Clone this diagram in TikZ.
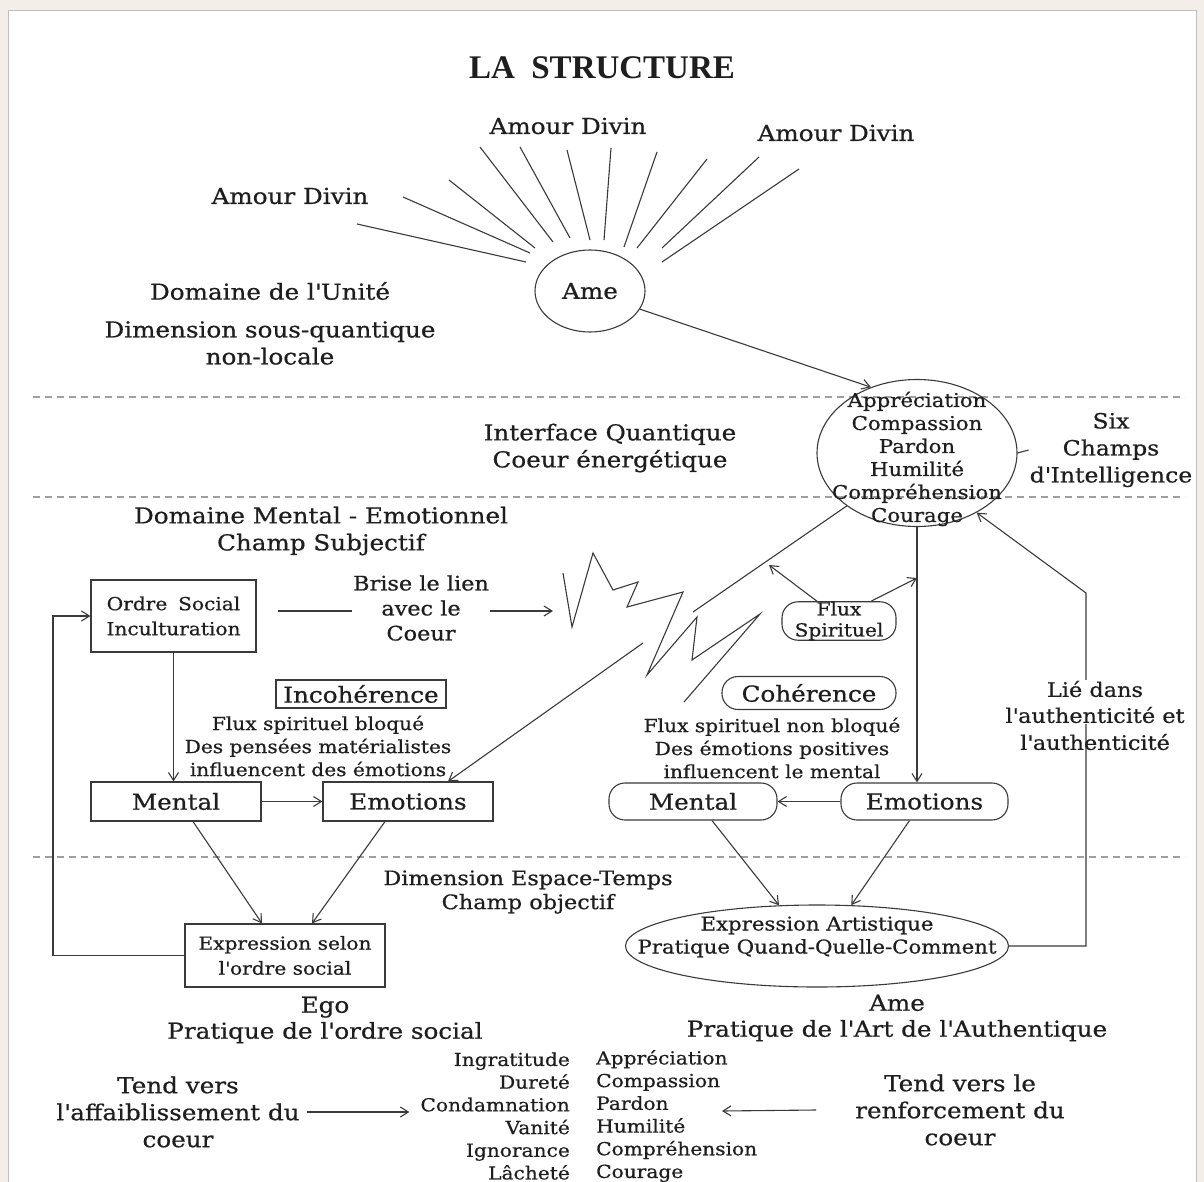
\documentclass[tikz,border=0pt]{standalone}
\usepackage{fontspec}
\setmainfont{DejaVu Serif}[FakeStretch=1.12, FakeBold=0.6]
\newfontfamily\titlefont{Liberation Serif}
\usetikzlibrary{shapes.geometric,arrows.meta,calc}
\definecolor{ink}{HTML}{3A3A3A}
\definecolor{txt}{HTML}{1E1E1E}
\definecolor{edgec}{HTML}{F3EFE8}
\newcommand{\ap}{\textquotesingle}
\begin{document}
\begin{tikzpicture}[x=1pt,y=-1pt,
 every node/.style={text=txt, inner sep=1pt},
 f22/.style={font=\fontsize{22}{27}\selectfont, align=center},
 f21/.style={font=\fontsize{21}{27}\selectfont, align=center},
 f20/.style={font=\fontsize{20}{25}\selectfont, align=center},
 f19/.style={font=\fontsize{19}{23}\selectfont, align=center},
 f18/.style={font=\fontsize{18}{23}\selectfont, align=center},
 sqbox/.style={draw=ink, line width=1.1pt, rectangle, inner sep=0pt},
 rbox/.style={draw=ink, line width=1.1pt, rectangle, rounded corners=16pt, inner sep=0pt},
 oval/.style={draw=ink, line width=1.1pt, ellipse, inner sep=0pt},
 ln/.style={draw=ink, line width=1.1pt},
 arr/.style={ln, -{Straight Barb[length=8pt,width=10pt]}},
 sepline/.style={draw=gray!75, line width=1.3pt, dash pattern=on 7pt off 5pt},
]
\useasboundingbox (0,0) rectangle (1204,1182);
\fill[edgec] (0,0) rectangle (1204,1182);
\fill[white] (9,11) rectangle (1196,1182);
\draw[gray!50, line width=1.5pt] (8.5,1182) -- (8.5,10.5) -- (1196.5,10.5) -- (1196.5,1182);

% dashed separators
\draw[sepline] (33,397) -- (1185,397);
\draw[sepline] (33,497) -- (1185,497);
\draw[sepline] (33,857) -- (1185,857);

% title and rays
\node[font={\fontsize{33}{36}\titlefont\bfseries}] (title) at (602,68) {LA\hspace{0.5em}STRUCTURE};
\node[f22] (ad1) at (568,126) {Amour Divin};
\node[f22] (ad2) at (836,133) {Amour Divin};
\node[f22] (ad3) at (290,196) {Amour Divin};
\foreach \a/\b/\c/\d in {357/224/526/262, 403/197/530/253, 449/180/535/248, 480/147/553/242, 520/147/570/238, 567/150/590/240, 611/148/604/240, 657/152/624/247, 707/159/637/248, 759/157/662/248, 799/169/662/262}
  \draw[ln] (\a,\b) -- (\c,\d);

\node[oval, f22, minimum width=110pt, minimum height=82pt] (ame) at (590,291) {Ame};
\node[f22] (unite) at (270,291) {Domaine de l\ap Unité};
\node[f22] (dimsq) at (270,343) {Dimension sous-quantique\\non-locale};

% six fields circle
\node[oval, minimum width=200pt, minimum height=147pt] (six) at (917,453) {};
\node[f19] (sixtxt) at (917,459) {Appréciation\\Compassion\\Pardon\\Humilité\\Compréhension\\Courage};
\node[f21, fill=white] (sixlab) at (1111,450) {Six\\Champs\\d\ap Intelligence};
\node[f22] (iq) at (610,448) {Interface Quantique\\Coeur énergétique};
\node[f22] (dme) at (321,531) {Domaine Mental - Emotionnel\\Champ Subjectif};

% left side
\node[sqbox, f18, font={\fontsize{18}{25}\selectfont}, minimum width=165pt, minimum height=72pt] (ordre) at (173.5,616) {Ordre\hspace{0.6em}Social\\Inculturation};
\node[f20] (brise) at (421,608) {Brise le lien\\avec le\\Coeur};
\node[sqbox, f22, minimum width=170pt, minimum height=28pt] (incoh) at (361,694) {Incohérence};
\node[f18] (fsb) at (318,746) {Flux spirituel bloqué\\Des pensées matérialistes\\influencent des émotions};
\node[sqbox, f22, minimum width=170pt, minimum height=39pt] (menL) at (176,801.5) {Mental};
\node[sqbox, f22, minimum width=170pt, minimum height=39pt] (emoL) at (408,801.5) {Emotions};
\node[sqbox, f18, font={\fontsize{18}{25}\selectfont}, minimum width=200pt, minimum height=63pt] (exprS) at (285,955.5) {Expression selon\\l\ap ordre social};

% right side
\node[rbox, f18, font={\fontsize{18}{21}\selectfont}, minimum width=114pt, minimum height=38pt] (flux) at (839,621) {Flux\\Spirituel};
\node[rbox, f22, minimum width=174pt, minimum height=33pt] (coh) at (809,693) {Cohérence};
\node[f18] (fsnb) at (772,748) {Flux spirituel non bloqué\\Des émotions positives\\influencent le mental};
\node[rbox, f22, minimum width=168pt, minimum height=37pt] (menR) at (693,801.5) {Mental};
\node[rbox, f22, minimum width=167pt, minimum height=37pt] (emoR) at (924.5,801.5) {Emotions};
\node[oval, minimum width=383pt, minimum height=82pt] (exprA) at (817,946) {};
\node[f19] (exprAtxt) at (817,937) {Expression Artistique\\Pratique Quand-Quelle-Comment};

\node[f20, font={\fontsize{20}{24}\selectfont}] (det) at (528,892) {Dimension Espace-Temps\\Champ objectif};
\node[f22, font={\fontsize{22}{26}\selectfont}] (ego) at (325,1020) {Ego\\Pratique de l\ap ordre social};
\node[f22, font={\fontsize{22}{26}\selectfont}] (ame2) at (897,1018) {Ame\\Pratique de l\ap Art de l\ap Authentique};

% bottom lists
\node[f22] (tendL) at (178,1112) {Tend vers\\l\ap affaiblissement du\\coeur};
\node[f22] (tendR) at (960,1110) {Tend vers le\\renforcement du\\coeur};
\node[font={\fontsize{18}{22.7}\selectfont}, align=right, anchor=east] (listL) at (571,1116) {Ingratitude\\Dureté\\Condamnation\\Vanité\\Ignorance\\Lâcheté};
\node[font={\fontsize{18}{22.7}\selectfont}, align=left, anchor=west] (listR) at (595,1116) {Appréciation\\Compassion\\Pardon\\Humilité\\Compréhension\\Courage};

% named free ends
\coordinate (brk1) at (693,612);
\coordinate (brk2) at (643,643);
\coordinate (zzin) at (553,611);
\coordinate (f1) at (769,565);
\coordinate (f2) at (917,578);
\coordinate (t1) at (1086,946);
\coordinate (t2) at (1086,593);
\coordinate (loopx) at (53,780);
\coordinate (rin) at (722,1111);
\coordinate (oe) at ([yshift=5pt]ordre.east);

% zigzag (broken link)
\draw[ln, line join=miter] (563,573) -- (572,627) -- (593,553) -- (613,590) -- (638,582) -- (627,607) -- (683,592) -- (647,675) -- (697,617) -- (692,660) -- (760,614) -- (684,702);

% connectors
\draw[arr] (ame.-20) -- (six.125);
\draw[ln] (six.-143) -- (brk1);
\draw[arr] (brk2) -- ([xshift=40pt]emoL.north);
\draw[arr] ([xshift=-22pt]flux.north) -- (f1);
\draw[arr] ([xshift=32pt]flux.north) -- (f2);
\draw[arr] (six.south) -- (six.south |- emoR.north);
\draw[arr] (emoR.west) -- (menR.east);
\draw[arr] ([xshift=19pt]menR.south) -- (exprA.133);
\draw[arr] ([xshift=-15pt]emoR.south) -- (exprA.50);
\draw[arr] (exprA.east) -- (t1) -- (t2) -- (six.-45);
\draw[ln] (six.east) -- (sixlab.west);
\draw[arr] (ordre.south) -- (ordre.south |- menL.north);
\draw[arr] (menL.east) -- (emoL.west);
\draw[arr] ([xshift=17pt]menL.south) -- ([xshift=-23pt]exprS.north);
\draw[arr] ([xshift=-23pt]emoL.south) -- ([xshift=27pt]exprS.north);
\draw[arr] (exprS.west) -| (loopx) |- (ordre.west);
\draw[ln, shorten <=21pt] (oe) -- (oe -| brise.west);
\draw[arr] (oe -| brise.east) -- (zzin);
\draw[arr, shorten <=6pt, shorten >=10pt] (tendL.east) -- (tendL.east -| listL.west);
\draw[arr] ([xshift=-38pt]tendR.west) -- (rin);

% label over the return line
\node[f20, font={\fontsize{20}{26}\selectfont}, fill=white] (lie1) at (1095,702) {Lié dans\\l\ap authenticité et};
\node[f20] (lie2) at (1095,742) {l\ap authenticité};
\end{tikzpicture}
\end{document}
